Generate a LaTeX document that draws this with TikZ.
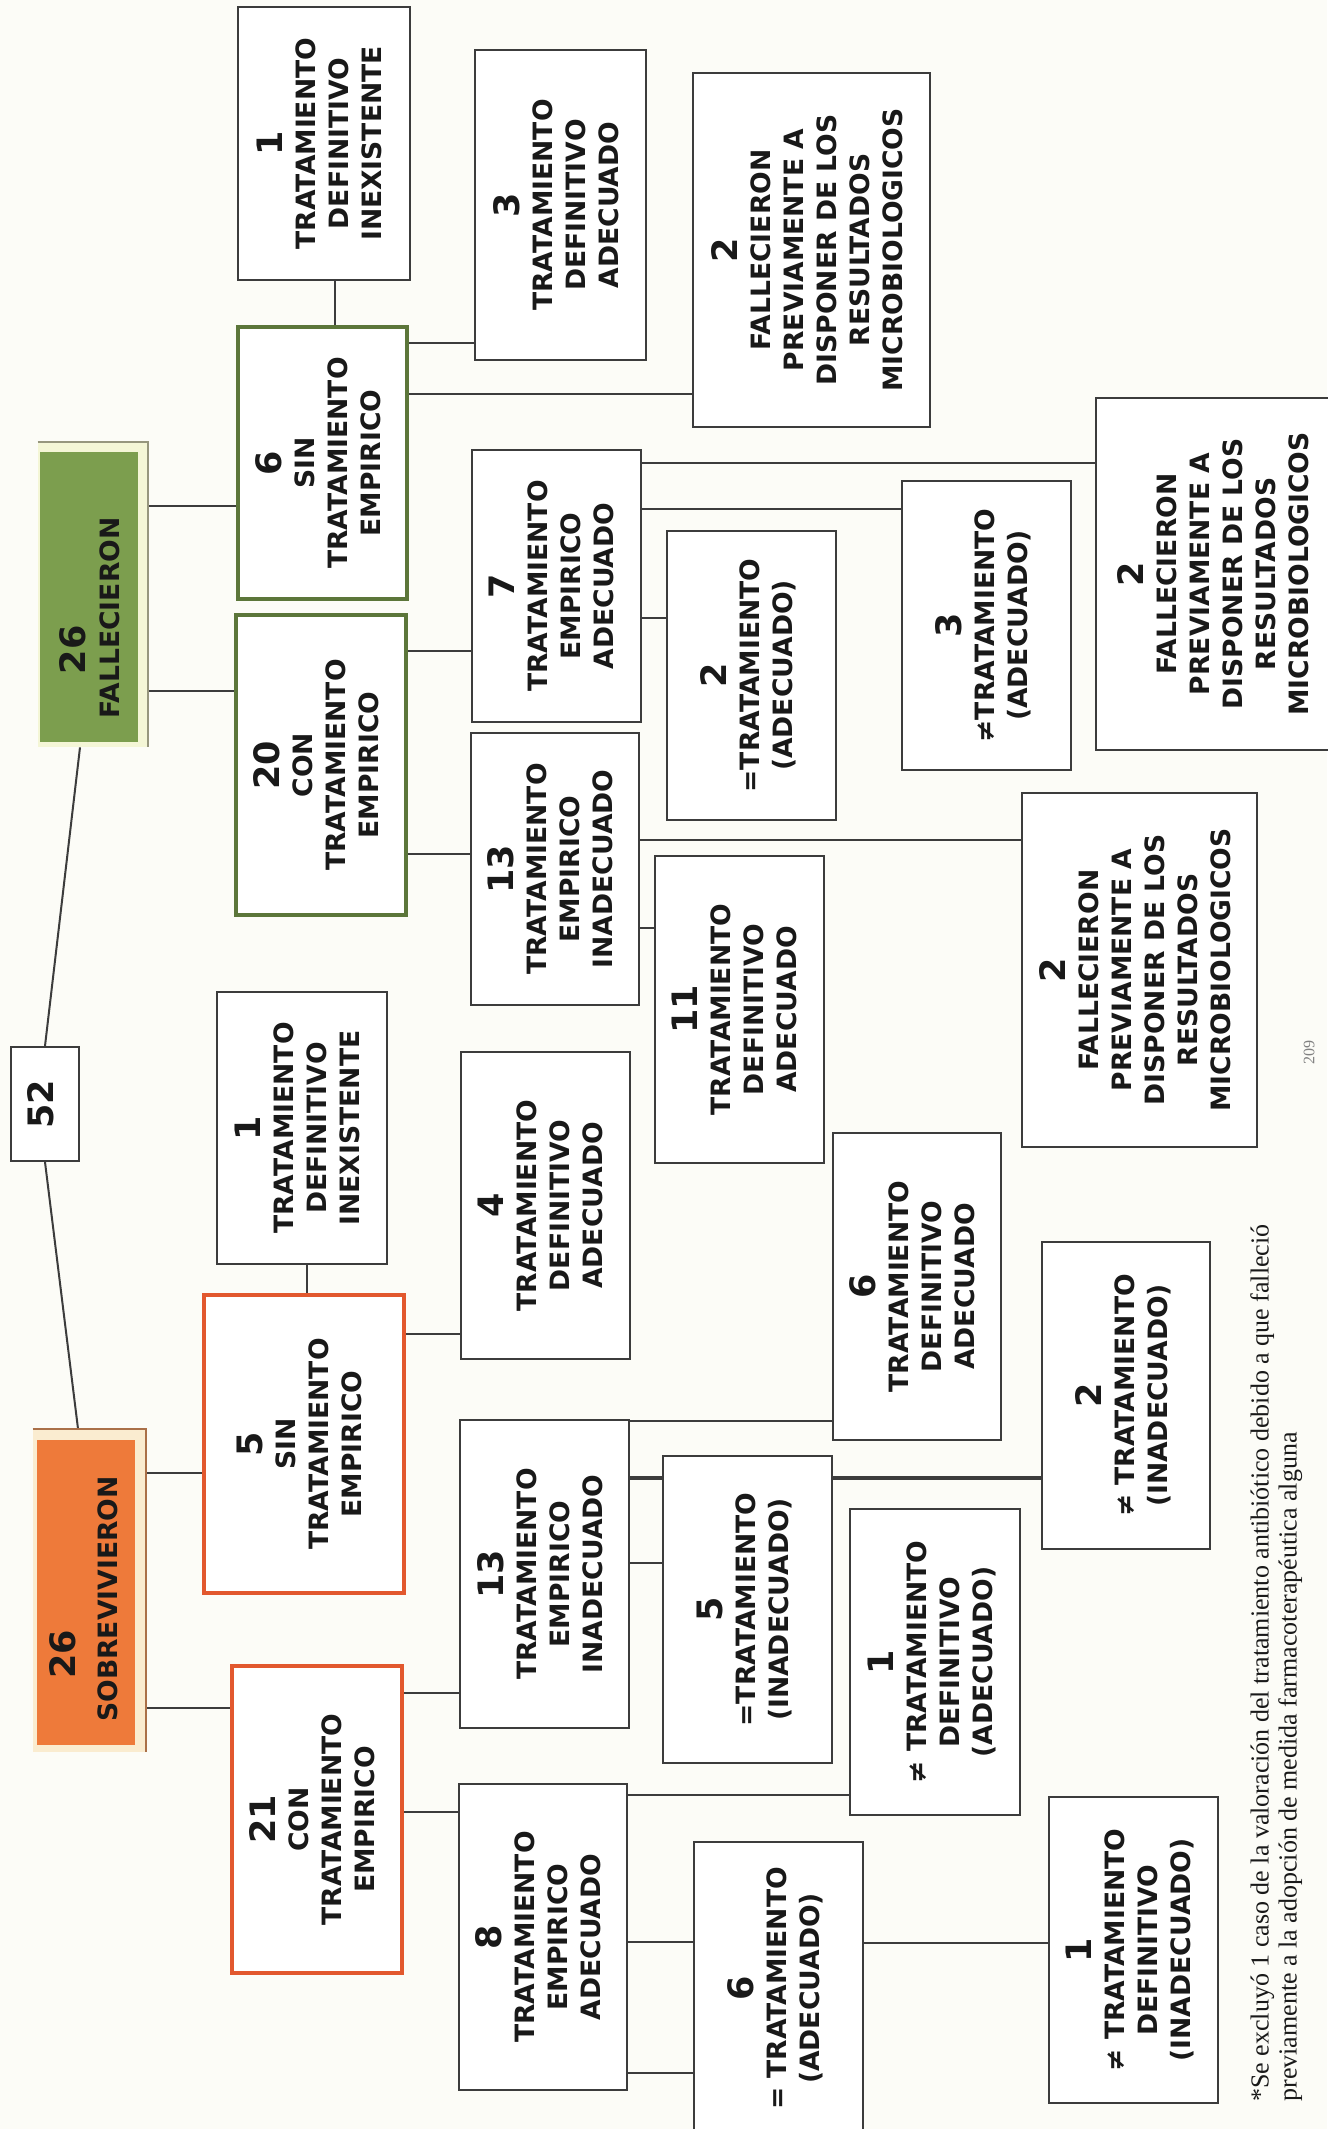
\documentclass[tikz,border=0pt]{standalone}
\usepackage{fontspec}
\usepackage{graphicx}
\newfontfamily\bxf{DejaVu Sans}
\newfontfamily\fnf{Liberation Serif}
\definecolor{bgc}{RGB}{252,252,247}
\definecolor{linec}{RGB}{60,60,60}
\definecolor{txtc}{RGB}{25,25,25}
\definecolor{greenfill}{RGB}{124,158,78}
\definecolor{greenb}{RGB}{92,118,58}
\definecolor{orangefill}{RGB}{238,122,58}
\definecolor{orangeb}{RGB}{226,88,46}
\definecolor{halog}{RGB}{244,246,214}
\definecolor{halogl}{RGB}{150,150,125}
\definecolor{haloo}{RGB}{250,236,208}
\definecolor{halool}{RGB}{170,112,72}
\pgfdeclarelayer{back}
\pgfdeclarelayer{bg}
\pgfsetlayers{back,bg,main}
\newcommand\tx{\bxf\bfseries\fontsize{13.3}{16.5}\selectfont}
\newcommand\nm{\fontsize{17.5}{20}\selectfont}
\newcommand\bx[7]{\node[#6, minimum width={(#4-#2)*0.5pt}, minimum height={(#5-#3)*0.5pt}] (#1) at ({(#2+#4)/2},{(#3+#5)/2}) {\rotatebox{90}{\tx\begin{tabular}{@{}c@{}}#7\end{tabular}}};}
\tikzset{
  plainbox/.style={draw=linec, line width=1pt, fill=white, inner sep=0pt, text=txtc},
  greenbox/.style={draw=greenb, line width=1.8pt, fill=white, inner sep=0pt, text=txtc},
  orangebox/.style={draw=orangeb, line width=1.8pt, fill=white, inner sep=0pt, text=txtc},
  conn/.style={draw=linec, line width=1pt},
  vtext/.style={rotate=90, inner sep=0pt, text=txtc}
}
\begin{document}
\begin{tikzpicture}[x=0.5pt,y=-0.5pt]
\useasboundingbox (0,0) rectangle (1327,2129);
\begin{pgfonlayer}{back}
\fill[bgc] (0,0) rectangle (1327,2129);
\end{pgfonlayer}

% top-level groups
\node[fill=halog, inner sep=0pt, minimum width=55pt, minimum height=152.5pt] (fallhalo) at (93,594.5) {};
\draw[halogl, line width=1pt] (fallhalo.north west) -- (fallhalo.north east) -- (fallhalo.south east);
\node[fill=greenfill, inner sep=0pt, minimum width=49pt, minimum height=145pt] (fall) at (89,597) {};
\node[vtext] (falln) at (73,650) {\tx\nm 26};
\node[vtext] (fallt) at (110,618) {\tx FALLECIERON};

\node[fill=haloo, inner sep=0pt, minimum width=56.5pt, minimum height=161.5pt] (sobrehalo) at (89.5,1590.5) {};
\draw[halool, line width=1pt] (sobrehalo.north west) -- (sobrehalo.north east) -- (sobrehalo.south east);
\node[fill=orangefill, inner sep=0pt, minimum width=49pt, minimum height=152.5pt] (sobre) at (86,1592.5) {};
\node[vtext] (sobren) at (63,1654) {\tx\nm 26};
\node[vtext] (sobret) at (108,1599) {\tx SOBREVIVIERON};

\bx{n52}{11}{1047}{79}{1161}{plainbox}{{\nm 52}}

% fallecieron branch
\bx{f1}{238}{7}{410}{280}{plainbox}{{\nm 1}\\TRATAMIENTO\\DEFINITIVO\\INEXISTENTE}
\bx{f3}{475}{50}{646}{360}{plainbox}{{\nm 3}\\TRATAMIENTO\\DEFINITIVO\\ADECUADO}
\bx{f2a}{693}{73}{930}{427}{plainbox}{{\nm 2}\\FALLECIERON\\PREVIAMENTE A\\DISPONER DE LOS\\RESULTADOS\\MICROBIOLOGICOS}
\bx{f6}{238}{327}{407}{599}{greenbox}{{\nm 6}\\SIN\\TRATAMIENTO\\EMPIRICO}
\bx{f20}{236}{615}{406}{915}{greenbox}{{\nm 20}\\CON\\TRATAMIENTO\\EMPIRICO}
\bx{f7}{472}{450}{641}{722}{plainbox}{{\nm 7}\\TRATAMIENTO\\EMPIRICO\\ADECUADO}
\bx{f2e}{667}{531}{836}{820}{plainbox}{{\nm 2}\\=TRATAMIENTO\\(ADECUADO)}
\bx{f3n}{902}{481}{1071}{770}{plainbox}{{\nm 3}\\≠TRATAMIENTO\\(ADECUADO)}
\bx{f2b}{1096}{398}{1340}{750}{plainbox}{{\nm 2}\\FALLECIERON\\PREVIAMENTE A\\DISPONER DE LOS\\RESULTADOS\\MICROBIOLOGICOS}
\bx{f13}{471}{733}{639}{1005}{plainbox}{{\nm 13}\\TRATAMIENTO\\EMPIRICO\\INADECUADO}
\bx{f11}{655}{856}{824}{1163}{plainbox}{{\nm 11}\\TRATAMIENTO\\DEFINITIVO\\ADECUADO}
\bx{f2c}{1022}{793}{1257}{1147}{plainbox}{{\nm 2}\\FALLECIERON\\PREVIAMENTE A\\DISPONER DE LOS\\RESULTADOS\\MICROBIOLOGICOS}

% sobrevivieron branch
\bx{s1}{217}{992}{387}{1264}{plainbox}{{\nm 1}\\TRATAMIENTO\\DEFINITIVO\\INEXISTENTE}
\bx{s5}{204}{1295}{404}{1593}{orangebox}{{\nm 5}\\SIN\\TRATAMIENTO\\EMPIRICO}
\bx{s4}{461}{1052}{630}{1359}{plainbox}{{\nm 4}\\TRATAMIENTO\\DEFINITIVO\\ADECUADO}
\bx{s6d}{833}{1133}{1001}{1440}{plainbox}{{\nm 6}\\TRATAMIENTO\\DEFINITIVO\\ADECUADO}
\bx{s2n}{1042}{1242}{1210}{1549}{plainbox}{{\nm 2}\\≠ TRATAMIENTO\\(INADECUADO)}
\bx{s13}{460}{1420}{629}{1728}{plainbox}{{\nm 13}\\TRATAMIENTO\\EMPIRICO\\INADECUADO}
\bx{s5e}{663}{1456}{832}{1763}{plainbox}{{\nm 5}\\=TRATAMIENTO\\(INADECUADO)}
\bx{s1n}{850}{1509}{1020}{1815}{plainbox}{{\nm 1}\\≠ TRATAMIENTO\\DEFINITIVO\\(ADECUADO)}
\bx{s21}{232}{1666}{402}{1973}{orangebox}{{\nm 21}\\CON\\TRATAMIENTO\\EMPIRICO}
\bx{s8}{459}{1784}{627}{2090}{plainbox}{{\nm 8}\\TRATAMIENTO\\EMPIRICO\\ADECUADO}
\bx{s6e}{694}{1842}{863}{2135}{plainbox}{{\nm 6}\\= TRATAMIENTO\\(ADECUADO)}
\bx{s1ni}{1049}{1797}{1218}{2103}{plainbox}{{\nm 1}\\≠ TRATAMIENTO\\DEFINITIVO\\(INADECUADO)}

% connectors
\begin{pgfonlayer}{bg}
\draw[conn] (fallhalo.south -| 80,0) -- (n52.north);
\draw[conn] (n52.south) -- (sobrehalo.north -| 78,0);
\draw[conn] (fallhalo.east |- 0,506) -- (f6.west |- 0,506);
\draw[conn] (fallhalo.east |- 0,691) -- (f20.west |- 0,691);
\draw[conn] (f1.south -| 335,0) -- (f6.north -| 335,0);
\draw[conn] (f6.east |- 0,343) -- (f3.west |- 0,343);
\draw[conn] (f6.east |- 0,394) -- (f2a.west |- 0,394);
\draw[conn] (f20.east |- 0,651) -- (f7.west |- 0,651);
\draw[conn] (f20.east |- 0,854) -- (f13.west |- 0,854);
\draw[conn] (f7.east |- 0,463) -- (f2b.west |- 0,463);
\draw[conn] (f7.east |- 0,509) -- (f3n.west |- 0,509);
\draw[conn] (f7.east |- 0,618) -- (f2e.west |- 0,618);
\draw[conn] (f13.east |- 0,840) -- (f2c.west |- 0,840);
\draw[conn] (f13.east |- 0,928) -- (f11.west |- 0,928);
\draw[conn] (sobrehalo.east |- 0,1473) -- (s5.west |- 0,1473);
\draw[conn] (sobrehalo.east |- 0,1708) -- (s21.west |- 0,1708);
\draw[conn] (s1.south -| 307,0) -- (s5.north -| 307,0);
\draw[conn] (s5.east |- 0,1334) -- (s4.west |- 0,1334);
\draw[conn] (s21.east |- 0,1693) -- (s13.west |- 0,1693);
\draw[conn] (s21.east |- 0,1812) -- (s8.west |- 0,1812);
\draw[conn] (s13.east |- 0,1421) -- (s6d.west |- 0,1421);
\draw[conn, line width=1.8pt] (s13.east |- 0,1478) -- (s2n.west |- 0,1478);
\draw[conn] (s13.east |- 0,1563) -- (s5e.west |- 0,1563);
\draw[conn] (s8.east |- 0,1795) -- (s1n.west |- 0,1795);
\draw[conn] (s8.east |- 0,1942) -- (s6e.west |- 0,1942);
\draw[conn] (s8.east |- 0,2073) -- (s6e.west |- 0,2073);
\draw[conn] (s6e.east |- 0,1943) -- (s1ni.west |- 0,1943);
\end{pgfonlayer}

% footnote and page number
\node[rotate=90, anchor=north west, align=left, inner sep=0pt, text=txtc, font=\fnf\fontsize{13}{14}\selectfont] (note) at (1250,2102) {*Se excluyó 1 caso de la valoración del tratamiento antibiótico debido a que falleció\\previamente a la adopción de medida farmacoterapéutica alguna};
\node[rotate=90, inner sep=0pt, text=gray, font=\fnf\fontsize{8}{10}\selectfont] (pnum) at (1309,1052) {209};
\end{tikzpicture}
\end{document}
